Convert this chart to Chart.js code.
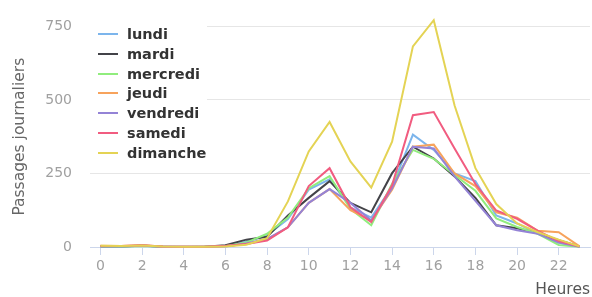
<!DOCTYPE html>
<html>
<head>
<meta charset="utf-8">
<script src="https://cdn.jsdelivr.net/npm/chart.js@4/dist/chart.umd.min.js"></script>
<style>
  html, body { margin: 0; padding: 0; background: #fff; }
  #wrap { position: relative; width: 592px; height: 297px; }
  #legend { position: absolute; left: 88px; top: 24px; width: 119px; height: 138px; background: #fff;
            font-family: "DejaVu Sans", sans-serif; font-weight: bold; font-size: 14.5px; color: #333; }
  #legend .row { position: absolute; left: 10px; height: 20px; line-height: 20px; white-space: nowrap; }
  #legend .sw { display: inline-block; width: 20px; height: 2px; vertical-align: middle; margin-right: 9px; position: relative; top: -1px; }
</style>
</head>
<body>
<div id="wrap">
  <canvas id="c" width="592" height="297"></canvas>
  <div id="legend"></div>
</div>
<script>
const hours = ["0","1","2","3","4","5","6","7","8","9","10","11","12","13","14","15","16","17","18","19","20","21","22","23"];
const seriesNames = ["lundi","mardi","mercredi","jeudi","vendredi","samedi","dimanche"];
const seriesColors = ["#7cb5ec","#434348","#90ed7d","#f7a35c","#9483d6","#f15c80","#e4d354"];
const lundi    = [3,2,4,1,1,1,4,18,40,95,195,230,135,100,205,382,330,250,224,107,80,45,15,2];
const mardi    = [2,2,5,1,0,1,6,25,35,107,167,224,150,118,251,341,301,240,167,74,64,47,23,2];
const mercredi = [2,1,3,1,0,1,3,15,45,100,200,241,130,74,215,330,300,245,191,97,68,45,7,1];
const jeudi    = [4,3,6,2,1,1,3,10,25,67,150,197,125,90,195,341,348,250,207,118,100,55,50,2];
const vendredi = [2,2,4,1,1,1,2,12,28,67,150,197,150,90,200,341,335,240,157,74,57,45,15,1];
const samedi   = [3,3,6,2,1,1,3,10,22,67,207,268,135,85,210,448,459,335,214,124,96,55,20,2];
const dimanche = [4,3,5,2,1,1,2,8,30,155,325,425,291,202,358,682,771,481,268,146,80,50,25,2];
const yTicks = [0,250,500,750];
const xTitle = "Heures";
const yTitle = "Passages journaliers";

const allSeries = [lundi,mardi,mercredi,jeudi,vendredi,samedi,dimanche];

const datasets = allSeries.map((d,i) => ({
  label: seriesNames[i],
  data: d,
  borderColor: seriesColors[i],
  backgroundColor: seriesColors[i],
  borderWidth: 2,
  pointRadius: 0,
  tension: 0,
  clip: false,
  order: allSeries.length - 1 - i
}));

// HTML legend
const leg = document.getElementById('legend');
seriesNames.forEach((n,i) => {
  const r = document.createElement('div');
  r.className = 'row';
  r.style.top = (i*19.8) + 'px';
  r.innerHTML = '<span class="sw" style="background:'+seriesColors[i]+'"></span>' + n;
  leg.appendChild(r);
});

new Chart(document.getElementById('c'), {
  type: 'line',
  data: { labels: hours, datasets },
  options: {
    responsive: false,
    animation: false,
    devicePixelRatio: 1,
    layout: { padding: { top: 22, right: 2, left: 11, bottom: 0 } },
    plugins: { legend: { display: false }, tooltip: { enabled: false } },
    scales: {
      x: {
        offset: true,
        border: { display: true, color: '#ccd6eb', width: 1 },
        grid: { drawOnChartArea: false, drawTicks: true, tickLength: 8, color: '#ccd6eb' },
        ticks: {
          autoSkip: false, maxRotation: 0, padding: 3,
          color: '#a0a0a0',
          font: { family: 'DejaVu Sans', size: 14 },
          callback: function(v, i) { const l = hours[i]; return (Number(l) % 2 === 0) ? l : null; }
        },
        title: { display: true, text: xTitle, align: 'end', color: '#555',
                 font: { family: 'DejaVu Sans', size: 15.5, lineHeight: 0.9 }, padding: 0 },
        afterFit: s => { s.height = 50; }
      },
      y: {
        min: 0, max: 750,
        border: { display: false },
        grid: { color: '#e6e6e6', drawTicks: false },
        afterBuildTicks: s => { s.ticks = yTicks.map(v => ({ value: v })); },
        ticks: { padding: 18, color: '#a0a0a0', font: { family: 'DejaVu Sans', size: 14 } },
        title: { display: true, text: yTitle, color: '#666',
                 font: { family: 'DejaVu Sans', size: 15.5 }, padding: 0 },
        afterFit: s => { s.width = 79; }
      }
    }
  }
});
</script>
</body>
</html>
